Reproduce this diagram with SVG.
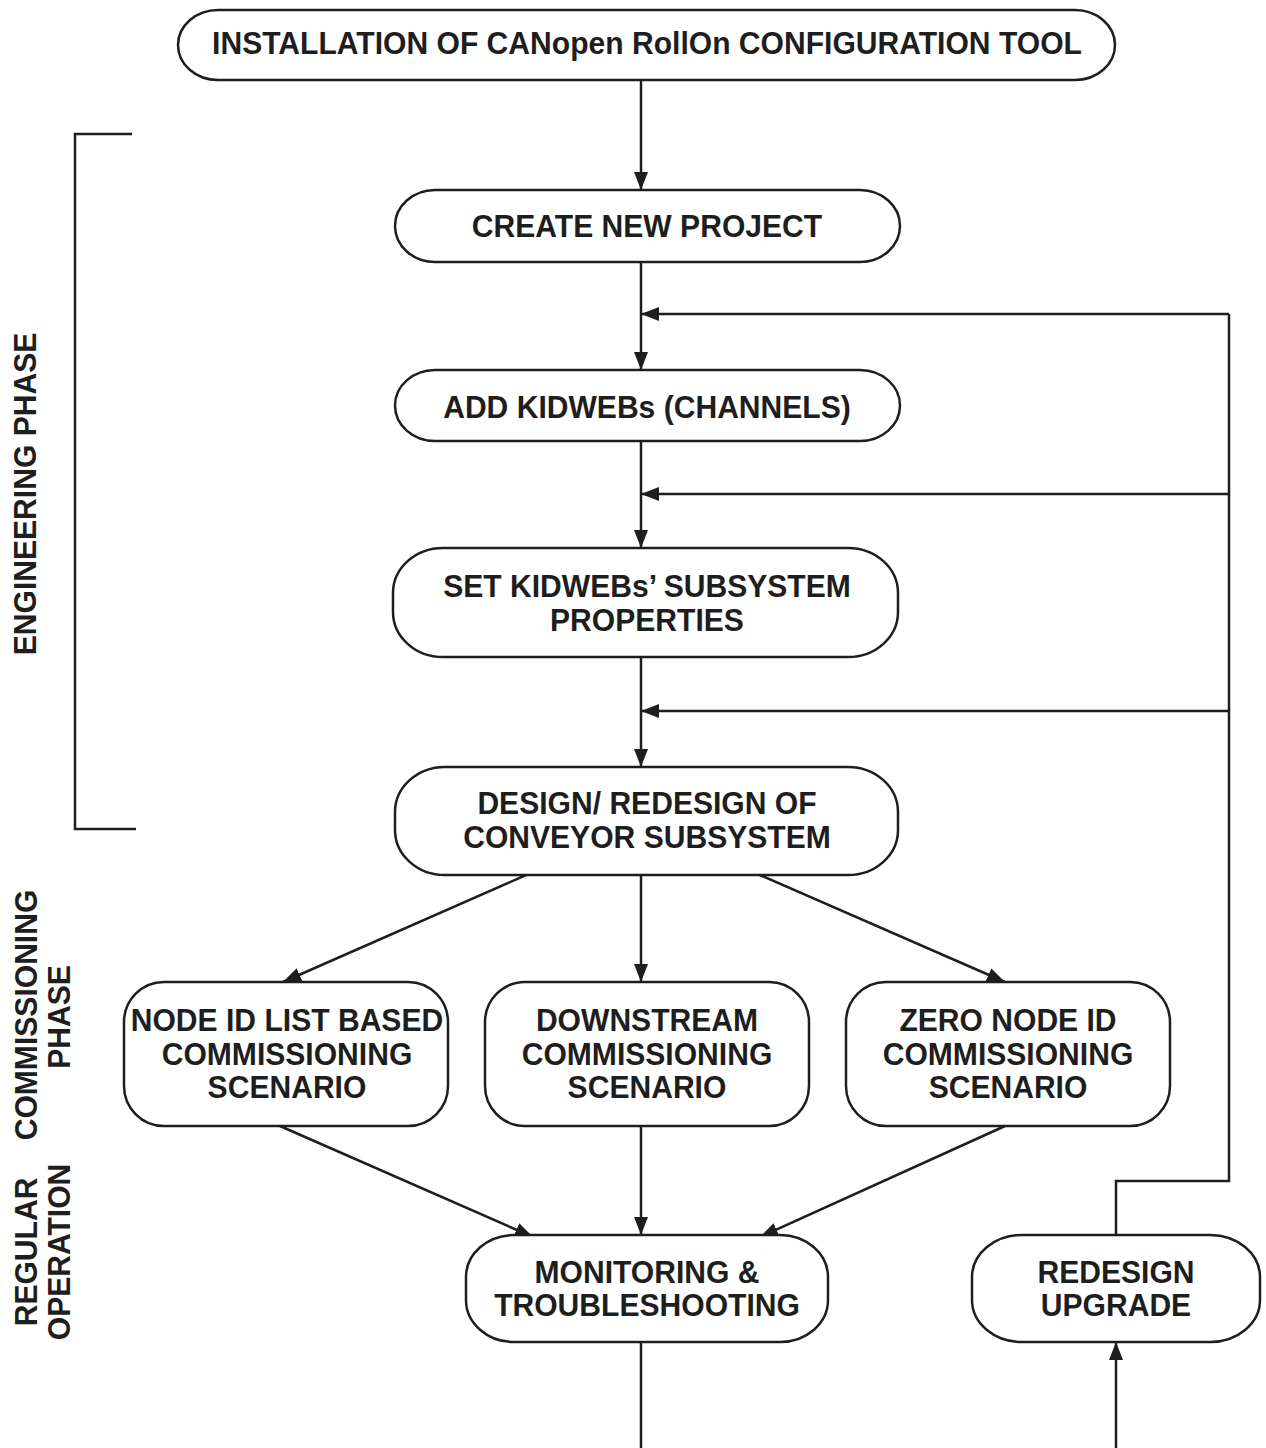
<svg xmlns="http://www.w3.org/2000/svg" width="1266" height="1448" viewBox="0 0 1266 1448">
<style>
.n{fill:#fff;stroke:#1e1e1e;stroke-width:2.5}
.t{font-family:"Liberation Sans",Arial,sans-serif;font-weight:bold;font-size:32px;fill:#1e1e1e;text-anchor:middle;transform-box:fill-box;transform-origin:center;transform:scaleX(0.94)}
.s{font-family:"Liberation Sans",Arial,sans-serif;font-weight:bold;font-size:32px;fill:#1e1e1e;text-anchor:middle}
.c{fill:none;stroke:#1e1e1e;stroke-width:2.5}
</style>
<defs>
<marker id="ah" markerUnits="userSpaceOnUse" markerWidth="18" markerHeight="14" viewBox="0 0 18 14" refX="18" refY="7" orient="auto">
<path d="M0,0 L18,7 L0,14 Z" fill="#1e1e1e"/>
</marker>
</defs>
<g id="connectors">
<line class="c" x1="641" y1="80" x2="641" y2="190" marker-end="url(#ah)"/>
<line class="c" x1="641" y1="262" x2="641" y2="370" marker-end="url(#ah)"/>
<line class="c" x1="641" y1="441" x2="641" y2="548" marker-end="url(#ah)"/>
<line class="c" x1="641" y1="657" x2="641" y2="767" marker-end="url(#ah)"/>
<polyline class="c" points="1116,1235 1116,1181 1229,1181 1229,314"/>
<line class="c" x1="1229" y1="314" x2="641" y2="314" marker-end="url(#ah)"/>
<line class="c" x1="1229" y1="494" x2="641" y2="494" marker-end="url(#ah)"/>
<line class="c" x1="1229" y1="711" x2="641" y2="711" marker-end="url(#ah)"/>
<line class="c" x1="533" y1="872" x2="283" y2="982" marker-end="url(#ah)"/>
<line class="c" x1="641" y1="875" x2="641" y2="982" marker-end="url(#ah)"/>
<line class="c" x1="753" y1="872" x2="1005" y2="982" marker-end="url(#ah)"/>
<line class="c" x1="280" y1="1126" x2="533" y2="1237" marker-end="url(#ah)"/>
<line class="c" x1="641" y1="1126" x2="641" y2="1235" marker-end="url(#ah)"/>
<line class="c" x1="1005" y1="1126" x2="760" y2="1237" marker-end="url(#ah)"/>
<line class="c" x1="641" y1="1342" x2="641" y2="1448"/>
<line class="c" x1="1116" y1="1448" x2="1116" y2="1342" marker-end="url(#ah)"/>
<polyline class="c" points="132,134 75,134 75,829 136,829"/>
</g>
<g id="install">
<rect class="n" x="178" y="10" width="937" height="70" rx="40" ry="35"/>
<text class="t" x="647" y="54">INSTALLATION OF CANopen RollOn CONFIGURATION TOOL</text>
</g>
<g id="create">
<rect class="n" x="395" y="190" width="505" height="72" rx="40" ry="36"/>
<text class="t" x="647" y="237">CREATE NEW PROJECT</text>
</g>
<g id="add">
<rect class="n" x="395" y="370" width="505" height="71" rx="40" ry="35.5"/>
<text class="t" x="647" y="418">ADD KIDWEBs (CHANNELS)</text>
</g>
<g id="set">
<rect class="n" x="393" y="548" width="505" height="109" rx="50" ry="45"/>
<text class="t" x="647" y="597">SET KIDWEBs’ SUBSYSTEM</text>
<text class="t" x="647" y="631">PROPERTIES</text>
</g>
<g id="design">
<rect class="n" x="395" y="767" width="503" height="108" rx="50" ry="45"/>
<text class="t" x="647" y="814">DESIGN/ REDESIGN OF</text>
<text class="t" x="647" y="848">CONVEYOR SUBSYSTEM</text>
</g>
<g id="nodeid">
<rect class="n" x="124" y="982" width="324" height="144" rx="40" ry="40"/>
<text class="t" x="287" y="1031">NODE ID LIST BASED</text>
<text class="t" x="287" y="1065">COMMISSIONING</text>
<text class="t" x="287" y="1098">SCENARIO</text>
</g>
<g id="downstream">
<rect class="n" x="485" y="982" width="324" height="144" rx="40" ry="40"/>
<text class="t" x="647" y="1031">DOWNSTREAM</text>
<text class="t" x="647" y="1065">COMMISSIONING</text>
<text class="t" x="647" y="1098">SCENARIO</text>
</g>
<g id="zero">
<rect class="n" x="846" y="982" width="324" height="144" rx="40" ry="40"/>
<text class="t" x="1008" y="1031">ZERO NODE ID</text>
<text class="t" x="1008" y="1065">COMMISSIONING</text>
<text class="t" x="1008" y="1098">SCENARIO</text>
</g>
<g id="monitoring">
<rect class="n" x="466" y="1235" width="362" height="107" rx="48" ry="42"/>
<text class="t" x="647" y="1283">MONITORING &amp;</text>
<text class="t" x="647" y="1316">TROUBLESHOOTING</text>
</g>
<g id="redesign">
<rect class="n" x="972" y="1235" width="288" height="107" rx="50" ry="42"/>
<text class="t" x="1116" y="1283">REDESIGN</text>
<text class="t" x="1116" y="1316">UPGRADE</text>
</g>
<g id="labels">
<text class="s" transform="translate(36,494) rotate(-90) scale(0.94,1)">ENGINEERING PHASE</text>
<text class="s" transform="translate(37,1015) rotate(-90) scale(0.94,1)">COMMISSIONING</text>
<text class="s" transform="translate(70,1017) rotate(-90) scale(0.94,1)">PHASE</text>
<text class="s" transform="translate(37,1252) rotate(-90) scale(0.94,1)">REGULAR</text>
<text class="s" transform="translate(70,1252) rotate(-90) scale(0.94,1)">OPERATION</text>
</g>
</svg>
